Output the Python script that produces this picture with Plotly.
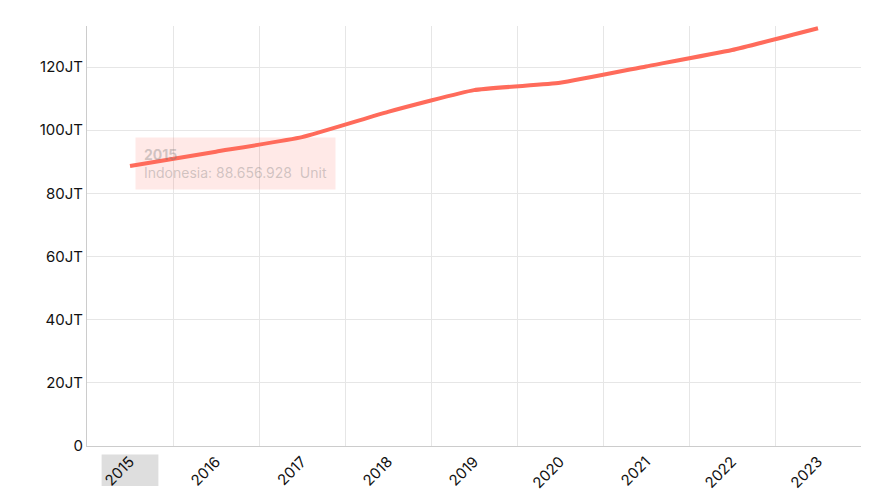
import plotly.graph_objects as go

years = ["2015","2016","2017","2018","2019","2020","2021","2022","2023"]
values = [88656928, 93200000, 97800000, 105800000, 112700000, 115000000, 120200000, 125400000, 132300000]
ytick_vals = [0, 20e6, 40e6, 60e6, 80e6, 100e6, 120e6]
ytick_text = ["0", "20JT", "40JT", "60JT", "80JT", "100JT", "120JT"]

fig = go.Figure()
fig.add_trace(go.Scatter(x=years, y=values, mode="lines",
                         line=dict(color="#ff6b5b", width=4, shape="spline", smoothing=0.4),
                         hoverinfo="skip"))

fig.update_layout(
    width=873, height=500, paper_bgcolor="white", plot_bgcolor="white",
    margin=dict(l=79, r=20, t=18, b=62), showlegend=False,
    font=dict(family="Inter, Noto Sans, sans-serif", size=15, color="#111"),
    xaxis=dict(type="category", tickson="boundaries", showgrid=True, gridcolor="#e6e6e6",
               tickangle=-45, ticks="", showline=True, linecolor="#cccccc",
               range=[-0.5, 8.5], automargin=False),
    yaxis=dict(range=[0, 133e6], tickvals=ytick_vals, ticktext=ytick_text,
               showgrid=True, gridcolor="#e6e6e6", showline=True, linecolor="#cccccc",
               zeroline=False, ticks="", automargin=False),
)
fig.add_shape(type="rect", xref="x", yref="paper", x0=-0.33, x1=0.33, y0=-0.095, y1=-0.02,
              fillcolor="rgba(200,200,200,0.6)", line_width=0, layer="below")
fig.add_annotation(xref="paper", yref="paper", x=0.062, y=0.735, xanchor="left", yanchor="top",
                   text="<b>2015</b><br>Indonesia: 88.656.928  Unit", showarrow=False, align="left",
                   font=dict(size=14, color="rgba(120,120,120,0.35)"),
                   bgcolor="rgba(255,107,91,0.15)", borderpad=8)
fig.write_html("out.html")
